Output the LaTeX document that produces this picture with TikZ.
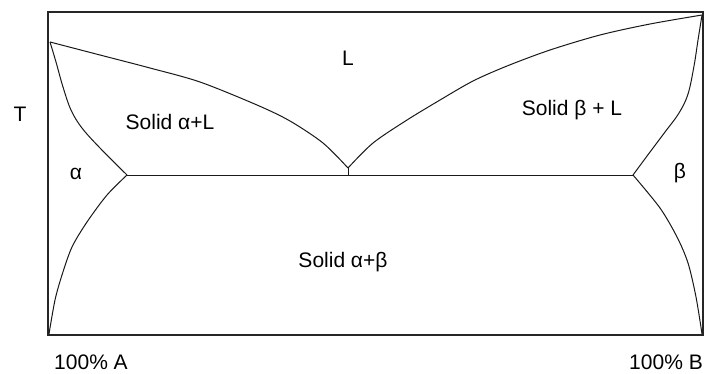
\documentclass[tikz,border=0pt]{standalone}
\usepackage{fontspec}
\setmainfont{Liberation Sans}
\begin{document}
\begin{tikzpicture}[x=1pt,y=-1pt,
  lbl/.style={inner sep=0pt,font=\fontsize{21}{25}\selectfont},
  frame/.style={line width=1.6pt,draw=black!85},
  phase/.style={line width=1pt,draw=black!90}]
\useasboundingbox (0,0) rectangle (708,373);
% frame
\coordinate (BL) at (48,335);
\coordinate (TR) at (703,12);
\draw[frame] (BL) rectangle (TR);
% key points
\coordinate (TA) at (50,42);
\coordinate (TB) at (702,15);
\coordinate (E) at (348,168);
\coordinate (E0) at (348,175);
\coordinate (Ea) at (127,175);
\coordinate (Eb) at (633,175);
\coordinate (A0) at (49,334);
\coordinate (B0) at (702,334);
% liquidus
\draw[phase] plot[smooth,tension=0.5] coordinates {(TA) (100,55) (150,68) (200,82) (257,105) (290,121) (323,143) (E)};
\draw[phase] plot[smooth,tension=0.5] coordinates {(E) (373,143) (407,120) (440,100) (473,81) (507,66) (550,50) (600,35) (650,24) (TB)};
\draw[phase] (E) -- (E0);
% eutectic line
\draw[phase] (Ea) -- (Eb);
% solidus
\draw[phase] plot[smooth,tension=0.6] coordinates {(TA) (56,62) (63,87) (71,110) (82,128) (100,148) (Ea)};
\draw[phase] plot[smooth,tension=0.6] coordinates {(TB) (698,40) (694,66) (688,94) (679,113) (665,132) (650,152) (Eb)};
% solvus
\draw[phase] plot[smooth,tension=0.5] coordinates {(Ea) (107,195) (87,222) (72,247) (62,275) (55,300) (A0)};
\draw[phase] plot[smooth,tension=0.5] coordinates {(Eb) (660,208) (677,237) (688,263) (696,297) (B0)};
% labels
\node[lbl] (lL) at (348,58) {L};
\node[lbl] (lT) at (20,114) {T};
\node[lbl] (lAL) at (170,122) {Solid α+L};
\node[lbl] (lBL) at (572,110) {Solid β + L};
\node[lbl] (lAB) at (343,262) {Solid α+β};
\node[lbl] (la) at (76,174) {α};
\node[lbl] (lb) at (680,173) {β};
\node[lbl] (pA) at (91,362) {100\% A};
\node[lbl] (pB) at (666,362) {100\% B};
\end{tikzpicture}
\end{document}
